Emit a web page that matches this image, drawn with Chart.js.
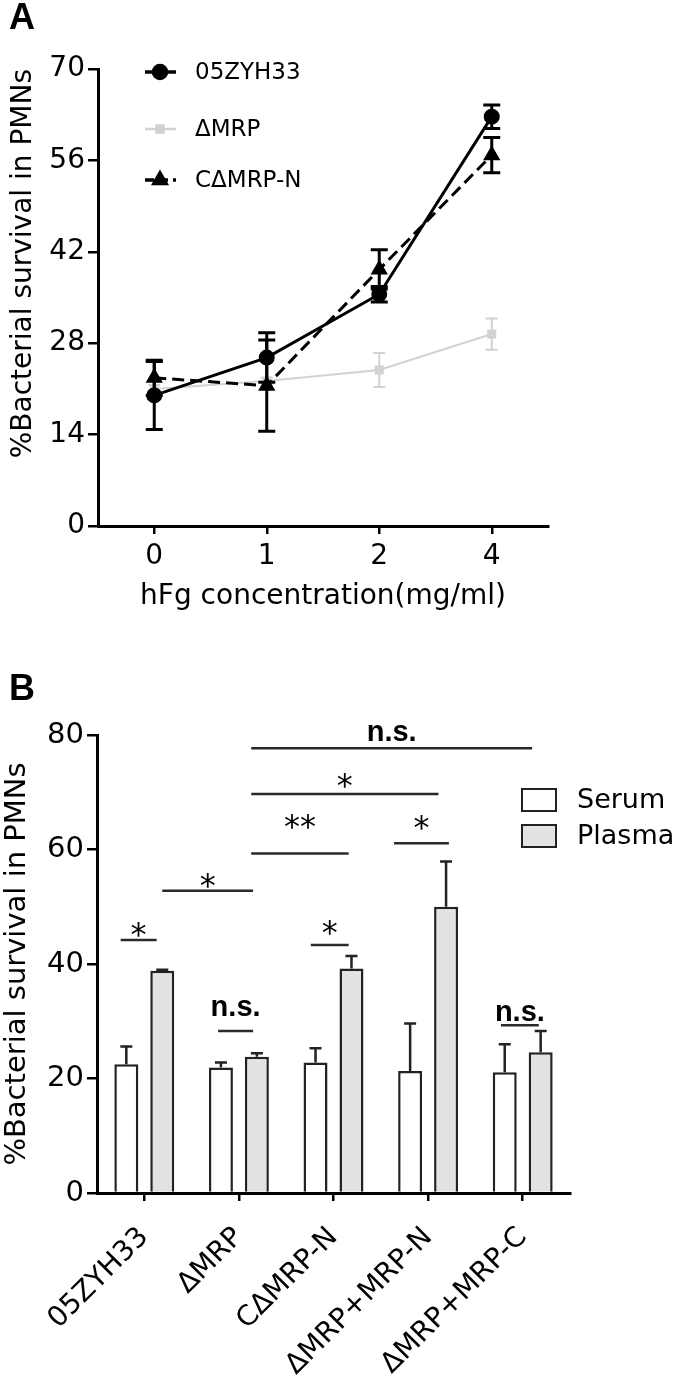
<!DOCTYPE html>
<html>
<head>
<meta charset="utf-8">
<script src="https://cdn.jsdelivr.net/npm/chart.js@4.4.1/dist/chart.umd.min.js"></script>
<style>
  body { margin: 0; background: #fff; width: 675px; height: 1380px; position: relative; overflow: hidden; }
  canvas { position: absolute; left: 0; }
  .tag { position: absolute; font: bold 36px "Liberation Sans", Arial, sans-serif; color: #000; line-height: 41px; }
</style>
</head>
<body>
<canvas id="chartA" width="675" height="640" style="top:0"></canvas>
<canvas id="chartB" width="675" height="740" style="top:640px"></canvas>
<div class="tag" style="left:9px;top:-4px">A</div>
<div class="tag" style="left:9px;top:667px">B</div>
<script>
// painel A: sobrevivencia x concentracao de hFg
const concLabels = ['0', '1', '2', '4'];
const wtSurvival = [20.0, 25.8, 35.5, 62.7];
const wtErr = [5.2, 3.8, 1.2, 1.8];
const mrpSurvival = [21.0, 22.2, 23.9, 29.4];
const mrpErr = [0.6, 0.5, 2.6, 2.4];
const cmrpSurvival = [22.7, 21.5, 39.3, 56.8];
const cmrpErr = [2.7, 7.0, 3.0, 2.7];
const yTicksA = [0, 14, 28, 42, 56, 70];

// painel B: soro x plasma
const strains = ['05ZYH33', 'ΔMRP', 'CΔMRP-N', 'ΔMRP+MRP-N', 'ΔMRP+MRP-C'];
const serumSurvival = [22.5, 21.9, 22.8, 21.3, 21.1];
const serumErr = [3.1, 0.9, 2.5, 8.3, 4.9];
const plasmaSurvival = [38.8, 23.8, 39.2, 50.0, 24.6];
const plasmaErr = [0.2, 0.6, 2.2, 7.9, 3.7];
const yTicksB = [0, 20, 40, 60, 80];
// [de, ate (posicao da categoria), nivel da linha, texto, nivel do texto]
const sigBrackets = [
    [-0.25, 0.13, 44.2, '*', 46.5],
    [0.19, 1.15, 52.8, '*', 55.0],
    [1.13, 2.16, 59.3, '**', 65.4],
    [1.13, 3.11, 69.7, '*', 72.4],
    [1.13, 4.10, 77.7, 'n.s.', 80.2],
    [2.64, 3.22, 61.1, '*', 65.1],
    [1.76, 2.16, 43.3, '*', 46.8],
    [0.78, 1.15, 28.3, 'n.s.', 32.3],
    [3.77, 4.17, 29.3, 'n.s.', 31.4]
];

Chart.defaults.font.family = '"DejaVu Sans", sans-serif';
Chart.defaults.color = '#000';

// barras de erro desenhadas pelas escalas do proprio grafico
const errorBars = {
    id: 'errorBars',
    afterDatasetDraw(chart, args, opts) {
        const ds = chart.data.datasets[args.index];
        if (!ds.errors) return;
        const ctx = chart.ctx;
        const y = chart.scales.y;
        ctx.save();
        ctx.strokeStyle = ds.errorColor;
        ctx.lineWidth = ds.errorWidth;
        ctx.setLineDash([]);
        args.meta.data.forEach((el, i) => {
            const v = ds.data[i], e = ds.errors[i];
            const top = y.getPixelForValue(v + e);
            const bot = opts.upOnly ? el.y : y.getPixelForValue(v - e);
            const cap = ds.capWidth / 2;
            ctx.beginPath();
            ctx.moveTo(el.x, top); ctx.lineTo(el.x, bot);
            ctx.moveTo(el.x - cap, top); ctx.lineTo(el.x + cap, top);
            if (!opts.upOnly) { ctx.moveTo(el.x - cap, bot); ctx.lineTo(el.x + cap, bot); }
            ctx.stroke();
        });
        ctx.restore();
    }
};

// legenda do painel A (linha + marcador)
const legendA = {
    id: 'legendA',
    afterDraw(chart) {
        const ctx = chart.ctx;
        const rows = [72, 129, 180];
        chart.data.datasets.forEach((ds, i) => {
            const y = rows[i];
            ctx.save();
            ctx.strokeStyle = ds.borderColor;
            ctx.lineWidth = ds.borderWidth + 0.5;
            ctx.setLineDash(ds.borderDash ? [9, 5] : []);
            ctx.beginPath();
            ctx.moveTo(145, y); ctx.lineTo(176, y);
            ctx.stroke();
            ctx.setLineDash([]);
            ctx.fillStyle = ds.pointBackgroundColor;
            ctx.strokeStyle = ds.borderColor;
            Chart.helpers.drawPoint(ctx, {pointStyle: ds.pointStyle, radius: ds.pointRadius, rotation: 0, borderWidth: 1}, 160, y);
            ctx.fillStyle = '#000';
            ctx.font = '23px "DejaVu Sans"';
            ctx.textBaseline = 'middle';
            ctx.fillText(ds.label, 195, y + 1);
            ctx.restore();
        });
    }
};

const configA = {
    type: 'line',
    data: {
        labels: concLabels,
        datasets: [{
            label: '05ZYH33',
            data: wtSurvival,
            errors: wtErr,
            borderColor: '#000',
            pointBackgroundColor: '#000',
            borderWidth: 3,
            pointStyle: 'circle',
            pointRadius: 6.5,
            errorColor: '#000', errorWidth: 3, capWidth: 17,
            order: 1
        }, {
            label: 'ΔMRP',
            data: mrpSurvival,
            errors: mrpErr,
            borderColor: '#d2d2d2',
            pointBackgroundColor: '#d2d2d2',
            borderWidth: 2,
            pointStyle: 'rect',
            pointRadius: 5,
            errorColor: '#d2d2d2', errorWidth: 2, capWidth: 12,
            order: 3
        }, {
            label: 'CΔMRP-N',
            data: cmrpSurvival,
            errors: cmrpErr,
            borderColor: '#000',
            pointBackgroundColor: '#000',
            borderWidth: 3,
            borderDash: [12, 6],
            pointStyle: 'triangle',
            pointRadius: 7,
            errorColor: '#000', errorWidth: 3, capWidth: 17,
            order: 2
        }]
    },
    options: {
        responsive: false,
        animation: false,
        layout: { padding: { left: 0, right: 127, top: 69, bottom: 0 } },
        plugins: { legend: { display: false }, tooltip: { enabled: false }, errorBars: { upOnly: false } },
        elements: { line: { tension: 0 } },
        scales: {
            x: {
                offset: true,
                grid: { drawOnChartArea: false, offset: false, color: '#000', lineWidth: 2.5, tickLength: 8 },
                border: { color: '#000', width: 3 },
                ticks: { font: { size: 28 }, padding: 6 },
                title: { display: true, text: 'hFg concentration(mg/ml)', font: { size: 28 }, padding: { top: 0, bottom: 26 } },
                afterFit: s => { s.height = 114; }
            },
            y: {
                min: 0, max: 70,
                afterBuildTicks: s => { s.ticks = yTicksA.map(v => ({ value: v })); },
                grid: { drawOnChartArea: false, color: '#000', lineWidth: 2.5, tickLength: 10 },
                border: { color: '#000', width: 3 },
                ticks: { font: { size: 28 }, padding: 3 },
                title: { display: true, text: '%Bacterial survival in PMNs', align: 'end', font: { size: 28 }, padding: { top: 7, bottom: 0 } },
                afterFit: s => { s.width = 98; }
            }
        }
    },
    plugins: [errorBars, legendA]
};
new Chart(document.getElementById('chartA').getContext('2d'), configA);

// barras de significancia do painel B
const sigPlugin = {
    id: 'sigPlugin',
    afterDraw(chart) {
        const ctx = chart.ctx, x = chart.scales.x, y = chart.scales.y;
        ctx.save();
        sigBrackets.forEach(([a, b, lvl, txt, tl]) => {
            const x1 = x.getPixelForValue(a), x2 = x.getPixelForValue(b);
            const yy = y.getPixelForValue(lvl);
            ctx.strokeStyle = '#2a2a2a';
            ctx.lineWidth = 2.5;
            ctx.beginPath();
            ctx.moveTo(x1, yy); ctx.lineTo(x2, yy);
            ctx.stroke();
            const ty = y.getPixelForValue(tl);
            ctx.fillStyle = '#000';
            ctx.textAlign = 'center';
            ctx.textBaseline = 'alphabetic';
            if (txt === 'n.s.') {
                ctx.font = 'bold 29px "Liberation Sans"';
                ctx.fillText(txt, (x1 + x2) / 2, ty + 0.26 * 29);
            } else {
                ctx.font = '32px "DejaVu Sans"';
                ctx.fillText(txt, (x1 + x2) / 2, ty + 0.56 * 32);
            }
        });
        ctx.restore();
    }
};

const legendB = {
    id: 'legendB',
    afterDraw(chart) {
        const ctx = chart.ctx;
        const rows = [160, 196];
        chart.data.datasets.forEach((ds, i) => {
            const y = rows[i];
            ctx.save();
            ctx.fillStyle = ds.backgroundColor;
            ctx.strokeStyle = '#222';
            ctx.lineWidth = 2;
            ctx.fillRect(522, y - 11, 34, 22);
            ctx.strokeRect(522, y - 11, 34, 22);
            ctx.fillStyle = '#000';
            ctx.font = '27px "DejaVu Sans"';
            ctx.textBaseline = 'middle';
            ctx.fillText(ds.label, 577, y + 1);
            ctx.restore();
        });
    }
};

const configB = {
    type: 'bar',
    data: {
        labels: strains,
        datasets: [{
            label: 'Serum',
            data: serumSurvival,
            errors: serumErr,
            backgroundColor: '#ffffff',
            borderColor: '#222',
            borderWidth: 2.5,
            errorColor: '#222', errorWidth: 2.5, capWidth: 12
        }, {
            label: 'Plasma',
            data: plasmaSurvival,
            errors: plasmaErr,
            backgroundColor: '#e2e2e2',
            borderColor: '#222',
            borderWidth: 2.5,
            errorColor: '#222', errorWidth: 2.5, capWidth: 12
        }]
    },
    options: {
        responsive: false,
        animation: false,
        categoryPercentage: 0.76,
        barPercentage: 0.667,
        layout: { padding: { left: 0, right: 105, top: 95, bottom: 0 } },
        plugins: { legend: { display: false }, tooltip: { enabled: false }, errorBars: { upOnly: true } },
        scales: {
            x: {
                grid: { drawOnChartArea: false, offset: false, color: '#000', lineWidth: 2.5, tickLength: 8 },
                border: { color: '#000', width: 3 },
                ticks: { font: { size: 28 }, padding: 20, minRotation: 45, maxRotation: 45, autoSkip: false },
                afterFit: s => { s.height = 187; }
            },
            y: {
                min: 0, max: 80,
                afterBuildTicks: s => { s.ticks = yTicksB.map(v => ({ value: v })); },
                grid: { drawOnChartArea: false, color: '#000', lineWidth: 2.5, tickLength: 10 },
                border: { color: '#000', width: 3 },
                ticks: { font: { size: 29 }, padding: 3 },
                title: { display: true, text: '%Bacterial survival in PMNs', font: { size: 29 }, padding: { top: 0, bottom: 0 } },
                afterFit: s => { s.width = 97; }
            }
        }
    },
    plugins: [errorBars, sigPlugin, legendB]
};
new Chart(document.getElementById('chartB').getContext('2d'), configB);
</script>
</body>
</html>
